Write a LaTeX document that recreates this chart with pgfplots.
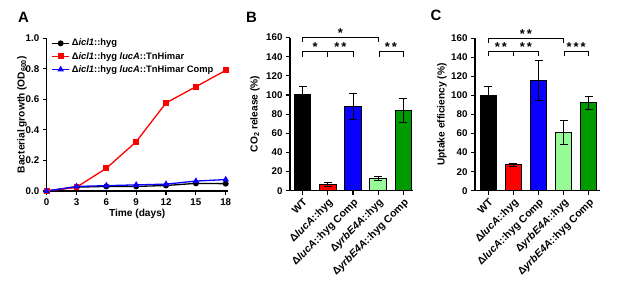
\documentclass[border=0pt]{standalone}
\usepackage{fontspec}
\setmainfont{Liberation Sans}
\usepackage{pgfplots}
\pgfplotsset{compat=1.18}
\definecolor{cred}{RGB}{255,0,0}
\definecolor{cblue}{RGB}{10,0,255}
\definecolor{lgreen}{RGB}{150,250,150}
\definecolor{dgreen}{RGB}{0,153,0}
\tikzset{stars/.style={font=\bfseries\fontsize{13}{13}\selectfont, anchor=base, inner sep=0pt, yshift=0.3bp}}
\pgfplotsset{
  panel/.style={
    scale only axis,
    anchor=south west,
    axis lines=left,
    axis line style={-, line width=1.1bp},
    tick align=outside,
    major tick length=4bp,
    every tick/.style={black, line width=1.1bp},
    tick label style={font=\bfseries\fontsize{9.8}{11}\selectfont},
    label style={font=\bfseries\fontsize{10.2}{12}\selectfont},
    /pgf/number format/assume math mode=true,
    clip=false,
  },
  barpanel/.style={
    panel,
    ymin=0, ymax=160,
    ytick={0,20,...,160},
    xtick={0,1,2,3,4},
    xticklabels={WT, Δ\textit{lucA}::hyg, Δ\textit{lucA}::hyg Comp, Δ\textit{yrbE4A}::hyg, Δ\textit{yrbE4A}::hyg Comp},
    xticklabel style={rotate=45, anchor=north east, inner sep=2bp, font=\bfseries\fontsize{10.5}{11}\selectfont},
    ybar, bar width=16.5bp, bar shift=0pt,
    every axis plot/.append style={draw=black, line width=1bp},
    error bars/y dir=both, error bars/y explicit,
    error bars/error bar style={line width=1bp, black},
    error bars/error mark options={rotate=90, mark size=4bp, line width=1bp, black},
  },
}
\begin{document}
\begin{tikzpicture}
\useasboundingbox (0,0) rectangle (617bp,-298bp);
\node[font=\bfseries\fontsize{15}{16}\selectfont] at (23.5bp,-17bp) {A};
\node[font=\bfseries\fontsize{15}{16}\selectfont] at (251.5bp,-17bp) {B};
\node[font=\bfseries\fontsize{15}{16}\selectfont] at (436bp,-15bp) {C};
\node[font=\bfseries\fontsize{10.2}{12}\selectfont, rotate=90, anchor=center] at (22bp,-114.6bp) {Bacterial growth (OD\textsubscript{600})};

% Panel A
\begin{axis}[panel, at={(46.7bp,-191bp)}, width=181bp, height=152.7bp,
  xmin=0, xmax=18.2, ymin=0, ymax=1.0,
  xtick={0,3,...,18}, ytick={0,0.2,...,1.0},
  yticklabel style={/pgf/number format/.cd, fixed, fixed zerofill, precision=1},
  xlabel={Time (days)},
  xlabel style={yshift=3bp},
  legend style={at={(0.02,1.015)}, anchor=north west, draw=none, fill=none,
    font=\bfseries\fontsize{9.4}{10}\selectfont, row sep=0.8bp, inner sep=1bp},
  legend cell align=left,
  every axis plot/.append style={line width=1.3bp},
]
\addplot[black, mark=*, mark size=2.3bp] coordinates {(0,0) (3,0.025) (6,0.03) (9,0.03) (12,0.036) (15,0.05) (18,0.048)};
\addlegendentry{Δ\textit{icl1}::hyg}
\addplot[cred, mark=square*, mark size=2.3bp] coordinates {(0,0) (3,0.025) (6,0.149) (9,0.323) (12,0.577) (15,0.683) (18,0.79)};
\addlegendentry{Δ\textit{icl1}::hyg \textit{lucA}::TnHimar}
\addplot[cblue, mark=triangle*, mark size=2.5bp] coordinates {(0,0) (3,0.03) (6,0.035) (9,0.04) (12,0.045) (15,0.065) (18,0.075)};
\addlegendentry{Δ\textit{icl1}::hyg \textit{lucA}::TnHimar Comp}
\end{axis}

% Panel B
\begin{axis}[barpanel, at={(290bp,-190.7bp)}, width=123.5bp, height=153.2bp,
  xmin=-0.5, xmax=4.4, ylabel={CO\textsubscript{2} release (\%)},
  ylabel style={at={(axis description cs:-0.283,0.5)}, anchor=center}]
\addplot[fill=black] coordinates {(0,100) +- (0,9)};
\addplot[fill=cred] coordinates {(1,6.7) +- (0,2)};
\addplot[fill=cblue] coordinates {(2,87.6) +- (0,13.5)};
\addplot[fill=lgreen] coordinates {(3,12.9) +- (0,2.4)};
\addplot[fill=dgreen] coordinates {(4,84) +- (0,12.5)};
\draw[line width=1bp] (axis cs:0,155) -- (axis cs:0,160) -- (axis cs:3,160) -- (axis cs:3,155);
\node[stars] at (axis cs:1.5,160) {*};
\draw[line width=1bp] (axis cs:0,140) -- (axis cs:0,145) -- (axis cs:1,145) -- (axis cs:1,140);
\node[stars] at (axis cs:0.5,145) {*};
\draw[line width=1bp] (axis cs:1,140) -- (axis cs:1,145) -- (axis cs:2,145) -- (axis cs:2,140);
\node[stars] at (axis cs:1.5,145) {*\kern2bp*};
\draw[line width=1bp] (axis cs:3.05,140) -- (axis cs:3.05,145) -- (axis cs:4,145) -- (axis cs:4,140);
\node[stars] at (axis cs:3.5,145) {*\kern2bp*};
\end{axis}

% Panel C
\begin{axis}[barpanel, at={(475bp,-190.7bp)}, width=125bp, height=152.4bp,
  xmin=-0.53, xmax=4.45, ylabel={Uptake efficiency (\%)},
  ylabel style={at={(axis description cs:-0.264,0.5)}, anchor=center}]
\addplot[fill=black] coordinates {(0,99.5) +- (0,9.4)};
\addplot[fill=cred] coordinates {(1,27) +- (0,1.7)};
\addplot[fill=cblue] coordinates {(2,116.2) +- (0,21)};
\addplot[fill=lgreen] coordinates {(3,61.3) +- (0,12.6)};
\addplot[fill=dgreen] coordinates {(4,92.1) +- (0,6.8)};
\draw[line width=1bp] (axis cs:0,155) -- (axis cs:0,160) -- (axis cs:3,160) -- (axis cs:3,155);
\node[stars] at (axis cs:1.5,160) {*\kern2bp*};
\draw[line width=1bp] (axis cs:0,141) -- (axis cs:0,146) -- (axis cs:1,146) -- (axis cs:1,141);
\node[stars] at (axis cs:0.5,146) {*\kern2bp*};
\draw[line width=1bp] (axis cs:1,141) -- (axis cs:1,146) -- (axis cs:2,146) -- (axis cs:2,141);
\node[stars] at (axis cs:1.5,146) {*\kern2bp*};
\draw[line width=1bp] (axis cs:3.05,141) -- (axis cs:3.05,146) -- (axis cs:4,146) -- (axis cs:4,141);
\node[stars] at (axis cs:3.5,146) {*\kern2bp*\kern2bp*};
\end{axis}
\end{tikzpicture}
\end{document}
